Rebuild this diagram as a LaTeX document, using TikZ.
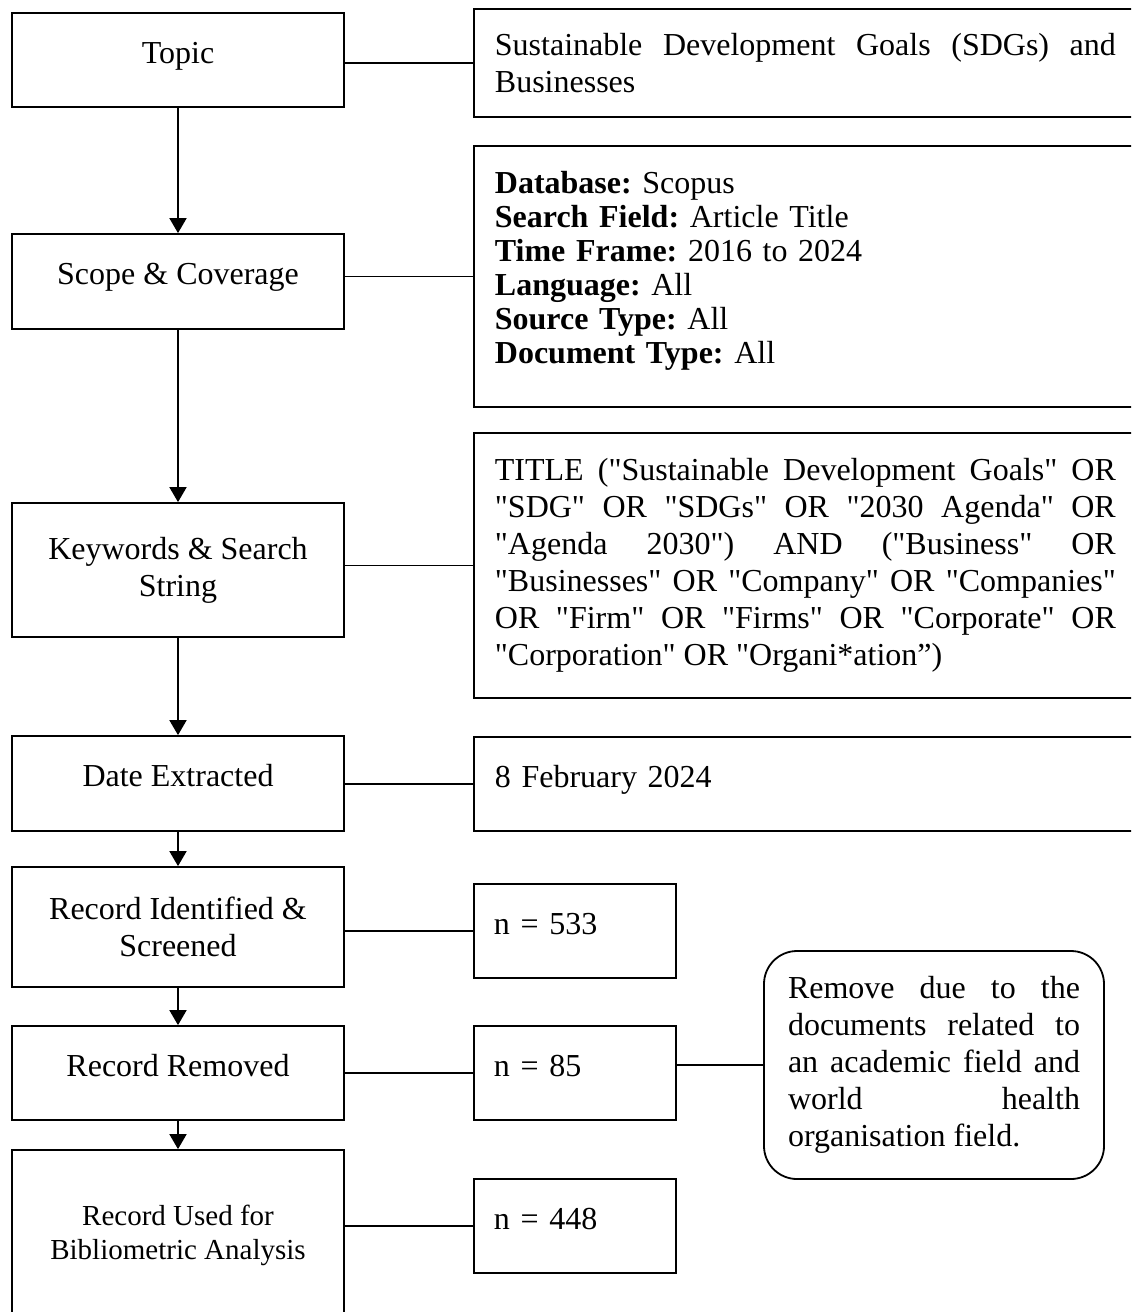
\documentclass[tikz,border=0pt]{standalone}
\usepackage{fontspec}
\defaultfontfeatures[\rmfamily]{}
\setmainfont{Liberation Serif}
\usetikzlibrary{arrows.meta}
\frenchspacing

\begin{document}
\begin{tikzpicture}[x=0.5pt, y=-0.5pt, line width=0.9pt,
    font={\fontsize{16}{18.5}\selectfont},
    stage/.style={draw, rectangle, minimum width=166pt, align=center, inner sep=0pt},
    info/.style={draw, rectangle, anchor=west, text width=310.5pt, inner xsep=10.5pt, inner ysep=0pt},
    count/.style={draw, rectangle, anchor=west, text width=81pt, inner xsep=10pt, minimum height=47pt, align=left},
    note/.style={draw, rounded corners=16.5pt, text width=146pt, inner xsep=12pt, minimum height=114pt, align=justify},
    lift/.style={text height=11pt, text depth=8pt},
    flow/.style={-{Triangle[width=8.5pt,length=7.5pt]}}]
    \useasboundingbox (0,0) rectangle (1131,1312);
    \clip (0,0) rectangle (1131,1312);

    % Steps
    \node[stage, lift, minimum height=47pt] (topic) at (178,60) {Topic};
    \node[stage, lift, minimum height=47.5pt] (scope) at (178,281.5) {Scope \& Coverage};
    \node[stage, minimum height=67pt] (kw) at (178,570) {Keywords \& Search\\String};
    \node[stage, lift, minimum height=47.5pt] (date) at (178,783.5) {Date Extracted};
    \node[stage, minimum height=60pt] (ident) at (178,927) {Record Identified \&\\Screened};
    \node[stage, lift, minimum height=47pt] (remov) at (178,1073) {Record Removed};
    \node[stage, minimum height=85pt, font={\fontsize{14.5}{17}\selectfont}] (used) at (178,1235)
        {Record Used for\\Bibliometric Analysis};

    % Details
    \node[info, minimum height=54pt, align=justify] (sdg) at (473,63)
        {Sustainable Development Goals (SDGs) and\linebreak Businesses};
    \node[info, minimum height=130.5pt, align=left, text height=11pt, text depth=94pt,
          font={\fontsize{16}{17}\selectfont}] (crit) at (473,276.5)
        {\textbf{Database:} Scopus\\
         \textbf{Search Field:} Article Title\\
         \textbf{Time Frame:} 2016 to 2024\\
         \textbf{Language:} All\\
         \textbf{Source Type:} All\\
         \textbf{Document Type:} All};
    \node[info, minimum height=132.5pt, align=justify] (query) at (473,565.5)
        {TITLE ("Sustainable Development Goals" OR\linebreak
         "SDG" OR "SDGs" OR "2030 Agenda" OR\linebreak
         "Agenda 2030") AND ("Business" OR\linebreak
         "Businesses" OR "Company" OR "Companies"\linebreak
         OR "Firm" OR "Firms" OR "Corporate" OR\linebreak
         "Corporation" OR "Organi*ation”)};
    \node[info, lift, minimum height=47pt, align=left] (extr) at (473,784) {8 February 2024};

    % Counts
    \node[count, lift] (n533) at (473,931) {n = 533};
    \node[count, lift] (n85) at (473,1073) {n = 85};
    \node[count, lift] (n448) at (473,1226) {n = 448};

    \node[note] (why) at (934,1065)
        {Remove due to the\linebreak documents related to\linebreak
         an academic field and\linebreak world health\linebreak organisation field.};

    % Connectors
    \foreach \a/\b in {topic/scope, scope/kw, kw/date, date/ident, ident/remov, remov/used} {
        \draw[flow] (\a) -- (\b);
    }
    \foreach \a/\b in {topic/sdg, scope/crit, kw/query, date/extr, ident/n533, remov/n85, used/n448} {
        \draw (\b.west) -- (\b.west -| \a.east);
    }
    \draw (why.west) -- (why.west -| n85.east);
\end{tikzpicture}
\end{document}
